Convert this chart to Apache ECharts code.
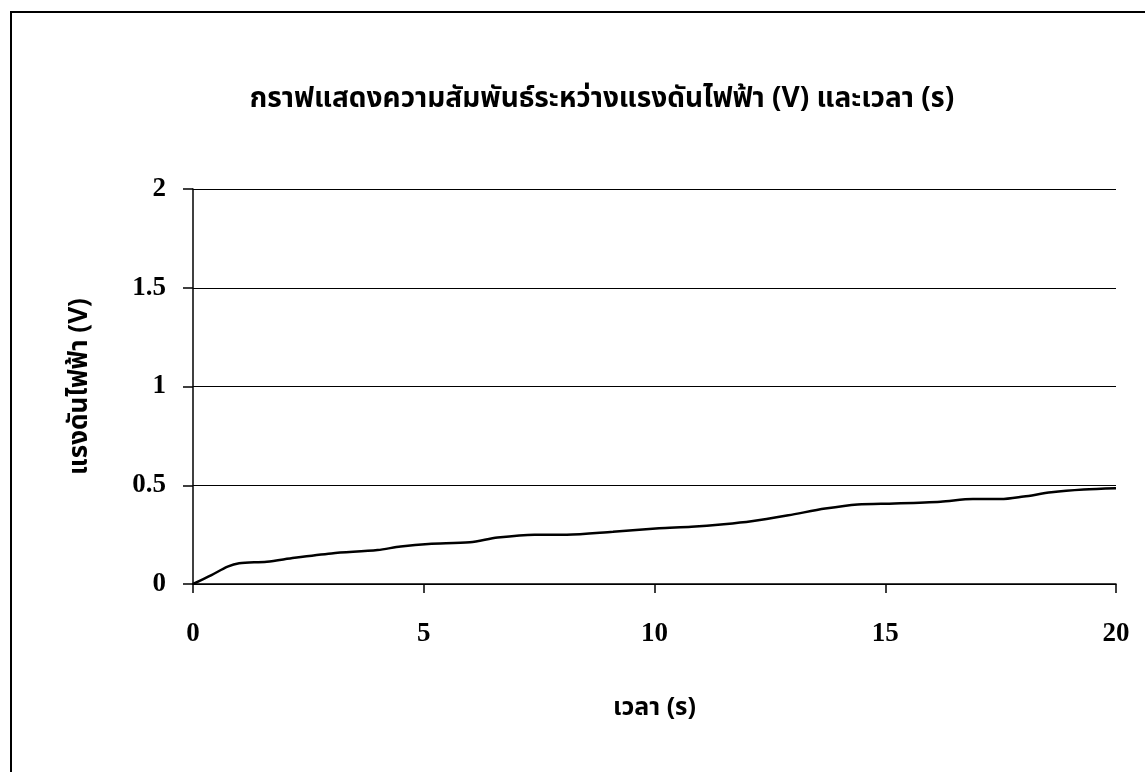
<!DOCTYPE html>
<html>
<head>
<meta charset="utf-8">
<script src="https://cdn.jsdelivr.net/npm/echarts@6/dist/echarts.min.js"></script>
<style>
html,body{margin:0;padding:0;background:#fff;}
#frame{position:absolute;left:10px;top:11px;width:1135px;height:761px;border-left:2px solid #000;border-top:2px solid #000;box-sizing:border-box;}
#chart{position:absolute;left:0;top:0;width:1145px;height:772px;}
</style>
</head>
<body>
<div id="frame"></div>
<div id="chart"></div>
<script>
const titleText = 'กราฟแสดงความสัมพันธ์ระหว่างแรงดันไฟฟ้า (V) และเวลา (s)';
const xName = 'เวลา (s)';
const yName = 'แรงดันไฟฟ้า (V)';
const timeS = [0, 0.4, 0.75, 1.0, 1.6, 2.2, 3.0, 4.0, 4.5, 5.1, 6.0, 6.6, 7.4, 8.1, 9.1, 10.1, 10.8, 11.5, 12.1, 12.9, 13.7, 14.4, 15.2, 16.2, 16.9, 17.5, 18.0, 18.6, 19.3, 20.0];
const voltV = [0, 0.045, 0.088, 0.105, 0.113, 0.133, 0.155, 0.172, 0.19, 0.203, 0.211, 0.235, 0.25, 0.25, 0.265, 0.282, 0.29, 0.303, 0.318, 0.348, 0.382, 0.403, 0.408, 0.417, 0.43, 0.43, 0.443, 0.464, 0.478, 0.485];
const xTicks = [0, 5, 10, 15, 20];
const yTicks = [0, 0.5, 1, 1.5, 2];

const serif = '"Liberation Serif","Times New Roman",serif';
const thai = '"Noto Sans Thai","Noto Sans","DejaVu Sans",sans-serif';

const chart = echarts.init(document.getElementById('chart'), null, {renderer:'canvas'});
chart.setOption({
  animation: false,
  backgroundColor: 'transparent',
  title: {
    text: titleText,
    left: 597, top: 82, textAlign: 'center',
    textStyle: {fontFamily: thai, fontWeight: 'bold', fontSize: 28, color: '#000'}
  },
  grid: {left: 193, right: 29, top: 189, bottom: 188},
  xAxis: {
    type: 'value', min: 0, max: 20, interval: 5,
    name: xName, nameLocation: 'middle', nameGap: 113,
    nameTextStyle: {fontFamily: thai, fontWeight: 'bold', fontSize: 25, color: '#000'},
    axisLine: {show: true, onZero: false, lineStyle: {color: '#000', width: 1.5}},
    axisTick: {show: true, length: 9, lineStyle: {color: '#000', width: 1.5}},
    axisLabel: {margin: 37, fontFamily: serif, fontWeight: 'bold', fontSize: 27, color: '#000',
      formatter: v => xTicks.includes(v) ? String(v) : ''},
    splitLine: {show: false}
  },
  yAxis: {
    type: 'value', min: 0, max: 2, interval: 0.5,
    name: yName, nameLocation: 'middle', nameGap: 98, nameRotate: 90,
    nameTextStyle: {fontFamily: thai, fontWeight: 'bold', fontSize: 26, color: '#000'},
    axisLine: {show: true, lineStyle: {color: '#000', width: 1.5}},
    axisTick: {show: true, length: 10, lineStyle: {color: '#000', width: 1.5}},
    axisLabel: {margin: 27, fontFamily: serif, fontWeight: 'bold', fontSize: 27, color: '#000',
      formatter: v => yTicks.includes(v) ? String(v) : ''},
    splitLine: {show: true, lineStyle: {color: '#000', width: 1.2}}
  },
  series: [{
    type: 'line',
    data: timeS.map((t, i) => [t, voltV[i]]),
    smooth: 0.3,
    showSymbol: false,
    lineStyle: {color: '#000', width: 2.5}
  }]
});
</script>
</body>
</html>
